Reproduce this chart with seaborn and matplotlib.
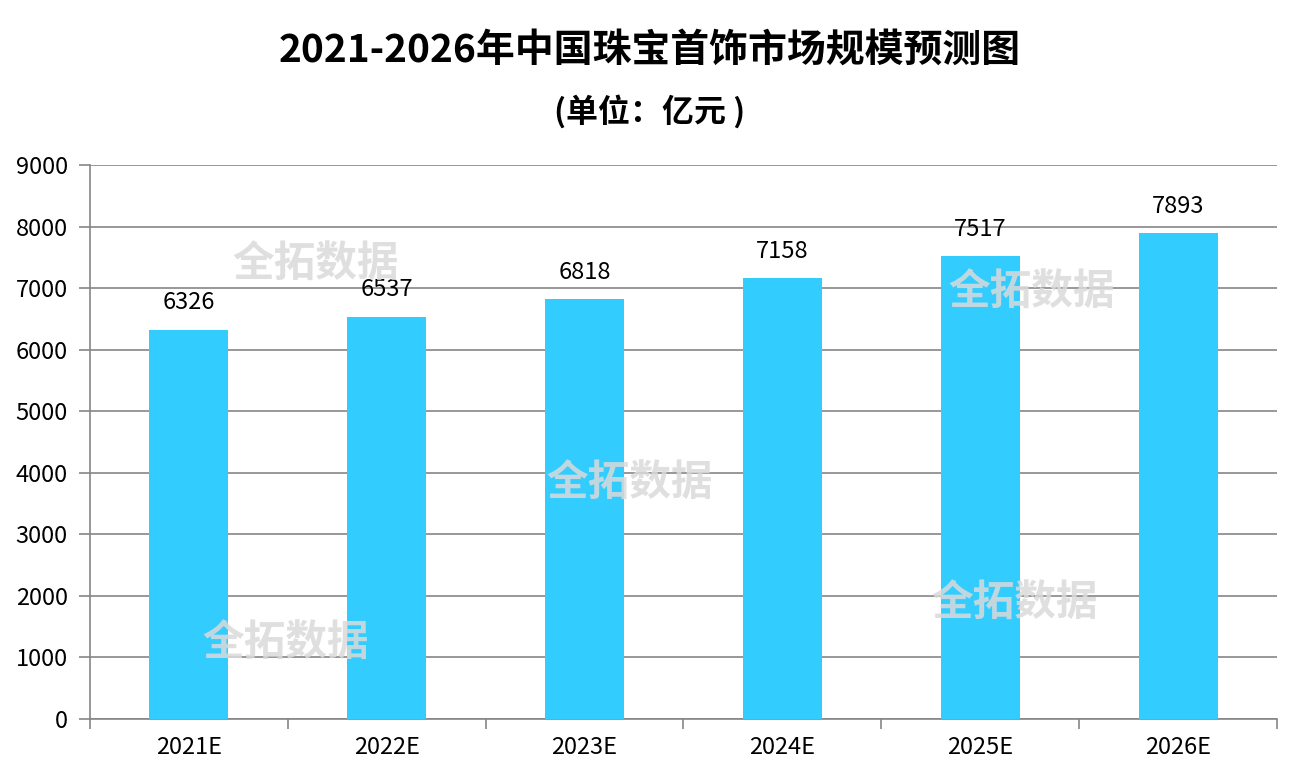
import matplotlib
matplotlib.use("Agg")
import matplotlib.pyplot as plt
import seaborn as sns
import pandas as pd

years = ["2021E", "2022E", "2023E", "2024E", "2025E", "2026E"]
values = [6326, 6537, 6818, 7158, 7517, 7893]
y_ticks = [0, 1000, 2000, 3000, 4000, 5000, 6000, 7000, 8000, 9000]
title = "2021-2026年中国珠宝首饰市场规模预测图"
subtitle = "(单位：亿元 )"
watermark = "全拓数据"

sns.set_theme(style="white")
plt.rcParams['font.family'] = ['Noto Sans CJK SC', 'DejaVu Sans']
plt.rcParams['text.color'] = 'black'

df = pd.DataFrame({"year": years, "value": values})

fig = plt.figure(figsize=(13, 7.8), dpi=100)
ax = fig.add_axes([90/1300, 1 - 719/780, (1277-90)/1300, (719-165)/780])

sns.barplot(data=df, x="year", y="value", color="#33CCFF", width=0.4,
            saturation=1, linewidth=0, ax=ax, zorder=3)

ax.set_ylim(0, 9000)
ax.set_xlim(-0.5, len(years) - 0.5)
ax.set_yticks(y_ticks)
ax.set_yticklabels([str(v) for v in y_ticks], fontsize=17, color="black")
ax.set_xticks(range(len(years)))
ax.set_xticklabels(years, fontsize=17, color="black")
ax.tick_params(axis='x', which='major', length=0, pad=12, bottom=True)
ax.set_xticks([i - 0.5 for i in range(len(years) + 1)], minor=True)
ax.tick_params(axis='x', which='minor', bottom=True, length=7, color="#868686",
               width=1.2, direction='out')
ax.tick_params(axis='y', left=True, length=8, color="#868686", width=1.2,
               direction='out', pad=8)
ax.grid(axis='y', color="#868686", linewidth=1.2, zorder=0)
ax.set_axisbelow(True)
for s in ["top", "right"]:
    ax.spines[s].set_visible(False)
for s in ["left", "bottom"]:
    ax.spines[s].set_color("#868686")
    ax.spines[s].set_linewidth(1.2)
ax.set_xlabel("")
ax.set_ylabel("")

for c in ax.containers:
    ax.bar_label(c, labels=[str(v) for v in values], padding=11, fontsize=17, color="black")

fig.text(0.5, 1 - 50/780, title, ha="center", va="center", fontsize=28,
         fontweight="bold", color="black")
fig.text(0.5, 1 - 112/780, subtitle, ha="center", va="center", fontsize=23,
         fontweight="bold", color="black")

for (x, y) in [(316, 264), (630, 483), (1032, 292), (1015, 603), (286, 643)]:
    fig.text(x/1300, 1 - y/780, watermark, ha="center", va="center", fontsize=30,
             fontweight="bold", color="#dadada", alpha=0.85, zorder=10)

fig.savefig("out.png", dpi=100)
